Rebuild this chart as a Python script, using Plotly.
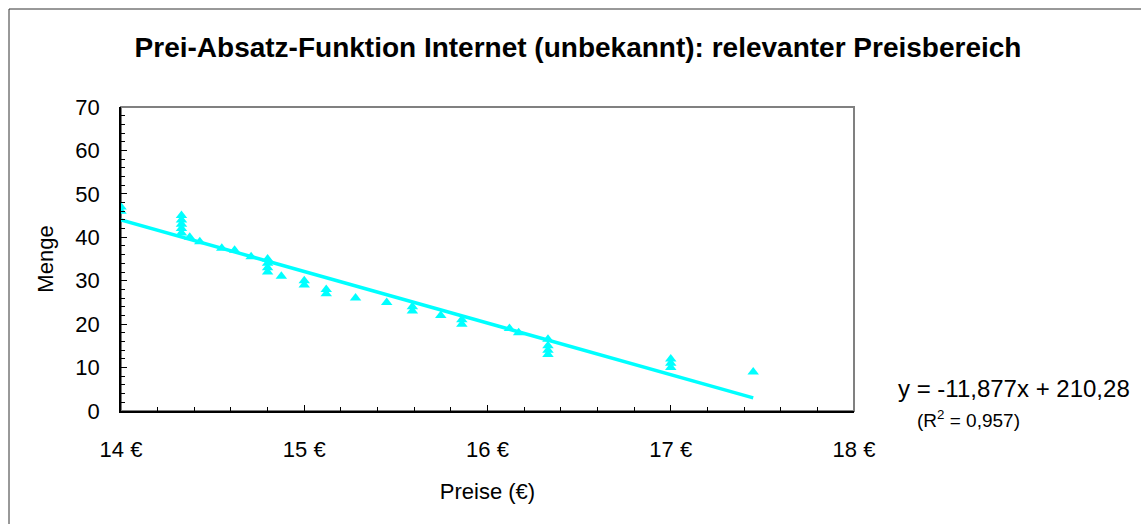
import plotly.graph_objects as go

# Data
preise = [14.0, 14.0,
          14.33, 14.33, 14.33, 14.33, 14.33,
          14.375, 14.43, 14.55, 14.62, 14.71,
          14.8, 14.8, 14.8, 14.8,
          14.875, 15.0, 15.0, 15.12, 15.12, 15.28,
          15.45, 15.59, 15.59, 15.745, 15.86, 15.86,
          16.12, 16.17, 16.33, 16.33, 16.33, 16.33,
          17.0, 17.0, 17.0, 17.45]
menge = [46, 47,
         45, 44, 43, 42, 41,
         40, 39, 37.5, 37, 35.5,
         35, 34, 33, 32,
         31, 30, 29, 28, 27, 26,
         25, 24, 23, 22, 21, 20,
         19, 18, 16.5, 15, 14, 13,
         12, 11, 10, 9]

slope = -11.877
intercept = 210.28
r2_text = "0,957"
eq_text = "y = -11,877x + 210,28"

x_ticks = [14, 15, 16, 17, 18]
x_ticklabels = ["14 €", "15 €", "16 €", "17 €", "18 €"]
y_ticks = [0, 10, 20, 30, 40, 50, 60, 70]

title_text = "Prei-Absatz-Funktion Internet (unbekannt): relevanter Preisbereich"

cyan = "#00FFFF"
font_family = "Liberation Sans, Arial, sans-serif"

line_x = [min(preise), max(preise)]
line_y = [slope * v + intercept for v in line_x]

fig = go.Figure()
fig.add_trace(go.Scatter(x=line_x, y=line_y, mode="lines",
                         line=dict(color=cyan, width=3.5), showlegend=False,
                         hoverinfo="skip"))
fig.add_trace(go.Scatter(x=preise, y=menge, mode="markers",
                         marker=dict(symbol="triangle-up", size=10, color=cyan,
                                     line=dict(width=0)),
                         showlegend=False))

W, H = 1141, 524
L, R, T, B = 121, 287, 107, 113
pw = W - L - R
ph = H - T - B

def px_x(p):
    return (p - L) / pw

def px_y(p):
    return (H - B - p) / ph

fig.update_layout(
    width=W, height=H,
    margin=dict(l=L, r=R, t=T, b=B),
    paper_bgcolor="white", plot_bgcolor="white",
    font=dict(family=font_family, size=22, color="black"),
    title=dict(text="<b>" + title_text + "</b>", x=578 / W, xref="container",
               xanchor="center", y=1 - 47 / H, yref="container", yanchor="middle",
               font=dict(size=28, family=font_family, color="black")),
    xaxis=dict(range=[14, 18], tickvals=x_ticks, ticktext=x_ticklabels,
               showgrid=False, zeroline=False, showline=True, linecolor="black",
               linewidth=1.5, ticks="inside", ticklen=6, tickcolor="black",
               ticklabelstandoff=18,
               minor=dict(ticks="inside", dtick=0.2, ticklen=4, tickcolor="black",
                          showgrid=False),
               title=dict(text="Preise (€)", font=dict(size=22), standoff=22)),
    yaxis=dict(range=[0, 70], tickvals=y_ticks, showgrid=False, zeroline=False,
               showline=True, linecolor="black", linewidth=1.5, ticks="inside",
               ticklen=6, tickcolor="black", ticklabelstandoff=15,
               minor=dict(ticks="inside", dtick=2, ticklen=4, tickcolor="black",
                          showgrid=False),
               title=dict(text="Menge", font=dict(size=22), standoff=16)),
    shapes=[
        dict(type="rect", xref="paper", yref="paper", x0=0, x1=1, y0=0, y1=1,
             line=dict(color="#808080", width=2), layer="below"),
        dict(type="rect", xref="paper", yref="paper",
             x0=px_x(9), x1=px_x(1160), y0=px_y(540), y1=px_y(9),
             line=dict(color="#333333", width=1), layer="below"),
    ],
    annotations=[
        dict(text=eq_text, xref="paper", yref="paper", x=px_x(896), y=px_y(388),
             xanchor="left", yanchor="middle", showarrow=False,
             font=dict(size=24, family=font_family)),
        dict(text="(R<sup>2</sup> = " + r2_text + ")", xref="paper", yref="paper",
             x=px_x(915), y=px_y(419), xanchor="left", yanchor="middle",
             showarrow=False, font=dict(size=19, family=font_family)),
    ],
)

fig.write_html("out.html", config={"displayModeBar": False},
               post_script="document.body.style.margin='0';document.body.style.padding='0';")
